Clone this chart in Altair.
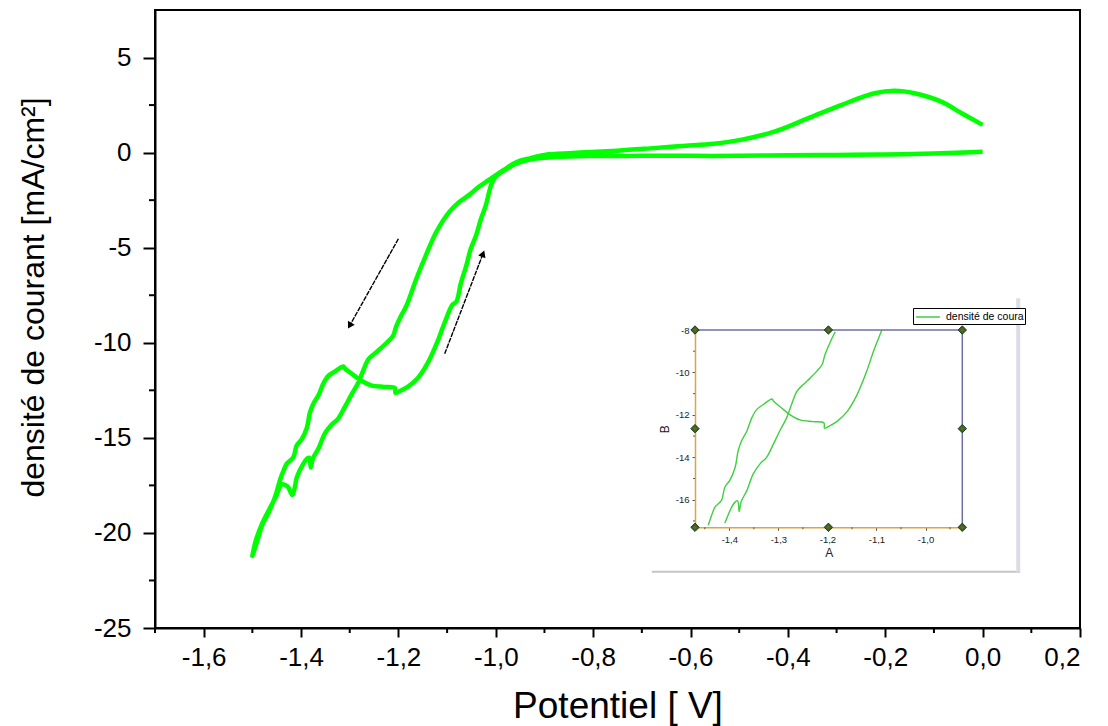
import altair as alt
import pandas as pd

# ---------------- data ----------------
# forward sweep: 0 V -> -1.5 V
fwd_x = [0.0, -0.04, -0.1, -0.2, -0.3, -0.4, -0.5, -0.6, -0.7, -0.8, -0.85, -0.9, -0.93,
         -0.96, -0.98, -1.0, -1.008, -1.014, -1.02, -1.031, -1.04, -1.052, -1.06, -1.072, -1.081,
         -1.089, -1.106, -1.12, -1.14, -1.16, -1.181, -1.198, -1.206, -1.207, -1.229, -1.256,
         -1.276, -1.29, -1.31, -1.313, -1.33, -1.344, -1.354, -1.364, -1.375, -1.382, -1.388,
         -1.399, -1.409, -1.416, -1.429, -1.436, -1.443, -1.452, -1.466, -1.48, -1.492, -1.5]
fwd_y = [0.05, 0.0, -0.05, -0.1, -0.12, -0.14, -0.17, -0.17, -0.17, -0.18, -0.2, -0.27, -0.37,
         -0.6, -0.9, -1.26, -1.6, -2.1, -2.74, -3.53, -4.32, -5.1, -5.89, -6.89, -7.84,
         -8.0, -9.0, -9.95, -11.07, -11.85, -12.32, -12.55, -12.63, -12.38, -12.32, -12.24,
         -12.0, -11.74, -11.35, -11.25, -11.5, -11.74, -12.13, -12.75, -13.22, -13.69, -14.46,
         -15.09, -15.4, -16.03, -16.34, -16.73, -17.2, -18.0, -18.9, -19.6, -20.6, -21.2]
# reverse sweep: -1.5 V -> 0 V
rev_x = [-1.5, -1.493, -1.478, -1.462, -1.45, -1.44, -1.428, -1.418, -1.412, -1.409, -1.395,
         -1.388, -1.383, -1.38, -1.376, -1.364, -1.351, -1.337, -1.324, -1.31, -1.297, -1.283,
         -1.273, -1.262, -1.249, -1.235, -1.222, -1.211, -1.205, -1.194, -1.184, -1.163,
         -1.143, -1.122, -1.095, -1.075, -1.054, -1.035, -1.015, -0.999, -0.98, -0.965, -0.95,
         -0.93, -0.91, -0.895, -0.86, -0.827, -0.75,
         -0.689, -0.62, -0.552, -0.497, -0.428, -0.359, -0.291, -0.222, -0.181, -0.14, -0.085,
         -0.043, 0.0]
rev_y = [-21.2, -20.4, -19.4, -18.6, -18.0, -17.45, -17.55, -18.0, -17.5, -17.1, -16.34,
         -16.1, -16.05, -16.56, -16.1, -15.55, -14.77, -14.3, -14.0, -13.37, -12.75, -12.13,
         -11.5, -10.88, -10.57, -10.26, -9.95, -9.64, -9.17, -8.55, -8.08, -6.62,
         -5.37, -4.16, -3.1, -2.6, -2.21, -1.8, -1.45, -1.17, -0.85, -0.6, -0.42,
         -0.3, -0.18, -0.1, -0.05, 0.0, 0.1,
         0.21, 0.35, 0.47, 0.67, 1.1, 1.8, 2.5, 3.12, 3.25, 3.12, 2.68,
         2.07, 1.46]

series_name = "densité de courant"

x_major = [-1.6, -1.4, -1.2, -1.0, -0.8, -0.6, -0.4, -0.2, 0.0, 0.2]
x_minor = [-1.7, -1.5, -1.3, -1.1, -0.9, -0.7, -0.5, -0.3, -0.1, 0.1]
y_major = [-25, -20, -15, -10, -5, 0, 5]
y_minor = [-22.5, -17.5, -12.5, -7.5, -2.5, 2.5]

# arrows (start -> end, head at end)
arrow_x1 = [-1.2, -1.105]
arrow_y1 = [-4.53, -10.58]
arrow_x2 = [-1.299, -1.027]
arrow_y2 = [-9.05, -5.37]
arrow_angle = [209, 21]

# inset
inset_x_major = [-1.4, -1.3, -1.2, -1.1, -1.0]
inset_x_minor = [-1.45, -1.35, -1.25, -1.15, -1.05, -0.95]
inset_y_major = [-8, -10, -12, -14, -16]
inset_y_minor = [-9, -11, -13, -15, -17]
inset_xdom = [-1.47, -0.925]
inset_ydom = [-17.3, -8.0]
handle_x = [-1.47, -1.198, -0.925, -1.47, -0.925, -1.47, -1.198, -0.925]
handle_y = [-8.0, -8.0, -8.0, -12.65, -12.65, -17.3, -17.3, -17.3]

# ---------------- tables ----------------
xs = fwd_x + rev_x
ys = fwd_y + rev_y
df = pd.DataFrame({
    "i": list(range(len(xs))),
    "x": xs,
    "y": ys,
    "branch": ["aller"] * len(fwd_x) + ["retour"] * len(rev_x),
    "serie": series_name,
})
df_arrows = pd.DataFrame({"x": arrow_x2, "y": arrow_y2, "x1": arrow_x1, "y1": arrow_y1,
                          "ang": arrow_angle})
df_xminor = pd.DataFrame({"x": x_minor})
df_yminor = pd.DataFrame({"y": y_minor})
df_ixminor = pd.DataFrame({"x": inset_x_minor})
df_iyminor = pd.DataFrame({"y": inset_y_minor})
df_handles = pd.DataFrame({"x": handle_x, "y": handle_y})

FONT = "Liberation Sans"
comma_fmt = "replace(replace(format(datum.value, '.1f'), '.', ','), '\u2212', '-')"
int_fmt = "replace(format(datum.value, 'd'), '\u2212', '-')"

W, H = 925, 618

x_scale = alt.Scale(domain=[-1.7, 0.2], nice=False, zero=False)
y_scale = alt.Scale(domain=[-25, 7.5], nice=False, zero=False)

x_axis = alt.Axis(
    title="Potentiel [ V]", values=x_major, labelExpr=comma_fmt, grid=False,
    domainColor="black", domainWidth=2, tickColor="black", tickWidth=2, tickSize=9,
    labelFont=FONT, labelFontSize=26, labelColor="black", labelPadding=7,
    titleFont=FONT, titleFontSize=37, titleFontWeight="normal", titleColor="black",
    titleX=W / 2, titleY=89, titleAlign="center", titleBaseline="alphabetic",
)
y_axis = alt.Axis(
    title="densité de courant [mA/cm²]", values=y_major, labelExpr=int_fmt, grid=False,
    domainColor="black", domainWidth=2, tickColor="black", tickWidth=2, tickSize=12,
    labelFont=FONT, labelFontSize=26, labelColor="black", labelPadding=12,
    titleFont=FONT, titleFontSize=32, titleFontWeight="normal", titleColor="black",
    titleX=-112, titleY=287, titleAngle=270, titleAlign="center", titleBaseline="alphabetic",
)

curve = alt.Chart(df).mark_line(color="#00ff00", strokeWidth=4.5, strokeJoin="round",
                                interpolate="catmull-rom").encode(
    x=alt.X("x:Q", scale=x_scale, axis=x_axis),
    y=alt.Y("y:Q", scale=y_scale, axis=y_axis),
    order="i:Q",
)

arrow_lines = alt.Chart(df_arrows).mark_rule(color="black", strokeWidth=1.4, strokeDash=[5, 1]).encode(
    x=alt.X("x1:Q", scale=x_scale, axis=x_axis),
    y=alt.Y("y1:Q", scale=y_scale, axis=y_axis),
    x2="x:Q", y2="y:Q",
)
arrow_heads = alt.Chart(df_arrows).mark_point(shape="triangle", filled=True, color="black",
                                               size=60, opacity=1).encode(
    x=alt.X("x:Q", scale=x_scale, axis=x_axis),
    y=alt.Y("y:Q", scale=y_scale, axis=y_axis),
    angle=alt.Angle("ang:Q", scale=None),
)

minor_x = alt.Chart(df_xminor).mark_rule(color="black", strokeWidth=2, y2Offset=5).encode(
    x=alt.X("x:Q", scale=x_scale, axis=x_axis),
    y=alt.YDatum(-25, scale=y_scale, axis=y_axis),
    y2=alt.Y2Datum(-25),
)
minor_y = alt.Chart(df_yminor).mark_rule(color="black", strokeWidth=2, x2Offset=-6).encode(
    y=alt.Y("y:Q", scale=y_scale, axis=y_axis),
    x=alt.XDatum(-1.7, scale=x_scale, axis=x_axis),
    x2=alt.X2Datum(-1.7),
)

main = alt.layer(curve, arrow_lines, arrow_heads, minor_x, minor_y)

# ---------------- inset ----------------
ix_scale = alt.Scale(domain=inset_xdom, range=[540, 807.3], nice=False, zero=False)
iy_scale = alt.Scale(domain=inset_ydom, range=[517.3, 320], nice=False, zero=False)
ORANGE = "#e3a23a"
SLATE = "#6f6f9f"

ix_axis = alt.Axis(
    orient="bottom", offset=-100.7, values=inset_x_major, labelExpr=comma_fmt, grid=False,
    domainColor=ORANGE, domainWidth=1.5, tickColor="#555555", tickSize=3, tickWidth=1,
    labelFont=FONT, labelFontSize=9.5, labelColor="#222222", labelPadding=4,
    title="A", titleFont=FONT, titleFontSize=12, titleFontWeight="normal", titleColor="#222222",
    titlePadding=4,
)
iy_axis = alt.Axis(
    orient="left", offset=-540, values=inset_y_major, labelExpr=int_fmt, grid=False,
    domainColor=ORANGE, domainWidth=1.5, tickColor="#555555", tickSize=3, tickWidth=1,
    labelFont=FONT, labelFontSize=9.5, labelColor="#222222", labelPadding=3,
    title="B", titleFont=FONT, titleFontSize=12, titleFontWeight="normal", titleColor="#222222",
    titlePadding=4,
)

inset_curve = alt.Chart(df).transform_filter(
    "datum.x >= -1.47 && datum.x <= -0.925 && datum.y >= -17.35 && datum.y <= -7.95"
).mark_line(strokeWidth=1.4, interpolate="catmull-rom").encode(
    x=alt.X("x:Q", scale=ix_scale, axis=ix_axis),
    y=alt.Y("y:Q", scale=iy_scale, axis=iy_axis),
    detail="branch:N",
    order="i:Q",
    color=alt.Color("serie:N", scale=alt.Scale(range=["#3fcf3f"]), legend=alt.Legend(
        orient="none", legendX=758, legendY=298, title=None,
        symbolType="M-1.7,0L1.7,0", symbolSize=196, symbolStrokeWidth=1.5, symbolOffset=6,
        labelOffset=10, labelFont=FONT, labelFontSize=10.5,
        labelColor="black", labelExpr="slice(datum.label, 0, 16)", strokeColor="black",
        fillColor="white", padding=1, labelLimit=300,
    )),
)

frame_top = alt.Chart(pd.DataFrame({"y": [inset_ydom[1]]})).mark_rule(color=SLATE, strokeWidth=1.5).encode(
    y=alt.Y("y:Q", scale=iy_scale, axis=iy_axis),
    x=alt.XDatum(inset_xdom[0], scale=ix_scale, axis=ix_axis),
    x2=alt.X2Datum(inset_xdom[1]),
)
frame_right = alt.Chart(pd.DataFrame({"x": [inset_xdom[1]]})).mark_rule(color=SLATE, strokeWidth=1.5).encode(
    x=alt.X("x:Q", scale=ix_scale, axis=ix_axis),
    y=alt.YDatum(inset_ydom[0], scale=iy_scale, axis=iy_axis),
    y2=alt.Y2Datum(inset_ydom[1]),
)
inset_minor_x = alt.Chart(df_ixminor).mark_rule(color="#555555", strokeWidth=1, y2Offset=2).encode(
    x=alt.X("x:Q", scale=ix_scale, axis=ix_axis),
    y=alt.YDatum(inset_ydom[0], scale=iy_scale, axis=iy_axis),
    y2=alt.Y2Datum(inset_ydom[0]),
)
inset_minor_y = alt.Chart(df_iyminor).mark_rule(color="#555555", strokeWidth=1, x2Offset=-2).encode(
    y=alt.Y("y:Q", scale=iy_scale, axis=iy_axis),
    x=alt.XDatum(inset_xdom[0], scale=ix_scale, axis=ix_axis),
    x2=alt.X2Datum(inset_xdom[0]),
)
handles = alt.Chart(df_handles).mark_point(shape="diamond", filled=True, color="#2b6e2b",
                                           stroke="#123d12", strokeWidth=1, size=70, opacity=1).encode(
    x=alt.X("x:Q", scale=ix_scale, axis=ix_axis),
    y=alt.Y("y:Q", scale=iy_scale, axis=iy_axis),
)
handle_dots = alt.Chart(df_handles).mark_point(shape="circle", filled=True, color="#b8401c",
                                               size=8, opacity=1).encode(
    x=alt.X("x:Q", scale=ix_scale, axis=ix_axis),
    y=alt.Y("y:Q", scale=iy_scale, axis=iy_axis),
)
border_bottom = alt.Chart(pd.DataFrame({"y": [-19.4]})).mark_rule(color="#c4c4c4", strokeWidth=2).encode(
    y=alt.Y("y:Q", scale=iy_scale, axis=iy_axis),
    x=alt.XDatum(-1.558, scale=ix_scale, axis=ix_axis),
    x2=alt.X2Datum(-0.807),
)
border_right = alt.Chart(pd.DataFrame({"x": [-0.811]})).mark_rule(color="#dcdce6", strokeWidth=4).encode(
    x=alt.X("x:Q", scale=ix_scale, axis=ix_axis),
    y=alt.YDatum(-19.4, scale=iy_scale, axis=iy_axis),
    y2=alt.Y2Datum(-6.5),
)

inset = alt.layer(inset_curve, frame_top, frame_right, inset_minor_x, inset_minor_y,
                  border_bottom, border_right, handles, handle_dots)

chart = alt.layer(main, inset).resolve_scale(x="independent", y="independent").properties(
    width=W, height=H,
    padding={"left": 147, "top": 2, "right": 20, "bottom": 98},
    autosize=alt.AutoSizeParams(type="none"),
    background="white",
).configure_view(stroke="black", strokeWidth=2)

chart.save("out.html", embed_options={"renderer": "svg", "actions": False})
